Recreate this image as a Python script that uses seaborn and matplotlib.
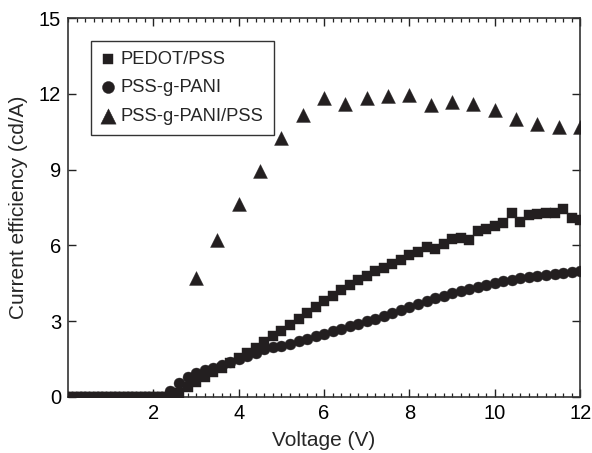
import numpy as np
import pandas as pd
import matplotlib
matplotlib.use("Agg")
import matplotlib.pyplot as plt
from matplotlib.ticker import MultipleLocator, FixedLocator
import seaborn as sns

# ---------------- data ----------------
zero_x = [0.0, 0.1, 0.2, 0.3, 0.4, 0.5, 0.6, 0.7, 0.8, 0.9, 1.0, 1.1, 1.2,
          1.3, 1.4, 1.5, 1.6, 1.7, 1.8, 1.9, 2.0, 2.1, 2.2, 2.3]

pedot_x = zero_x + [2.4, 2.5, 2.6, 2.8, 3.0, 3.2, 3.4, 3.6, 3.8, 4.0, 4.2, 4.4,
                    4.6, 4.8, 5.0, 5.2, 5.4, 5.6, 5.8, 6.0, 6.2, 6.4, 6.6, 6.8,
                    7.0, 7.2, 7.4, 7.6, 7.8, 8.0, 8.2, 8.4, 8.6, 8.8, 9.0, 9.2,
                    9.4, 9.6, 9.8, 10.0, 10.2, 10.4, 10.6, 10.8, 11.0, 11.2,
                    11.4, 11.6, 11.8, 12.0]
pedot_y = [0.0] * 24 + [0.0, 0.0, 0.15, 0.4, 0.6, 0.8, 1.0, 1.15, 1.35, 1.55,
                        1.75, 1.95, 2.18, 2.42, 2.62, 2.85, 3.1, 3.32, 3.55,
                        3.8, 4.0, 4.22, 4.43, 4.62, 4.8, 4.97, 5.12, 5.27,
                        5.42, 5.6, 5.75, 5.95, 5.85, 6.05, 6.25, 6.3, 6.22,
                        6.55, 6.65, 6.75, 6.9, 7.3, 6.92, 7.2, 7.25, 7.27,
                        7.28, 7.45, 7.1, 7.0]

pani_x = zero_x + [2.4, 2.6, 2.8, 3.0, 3.2, 3.4, 3.6, 3.8, 4.0, 4.2, 4.4, 4.6,
                   4.8, 5.0, 5.2, 5.4, 5.6, 5.8, 6.0, 6.2, 6.4, 6.6, 6.8, 7.0,
                   7.2, 7.4, 7.6, 7.8, 8.0, 8.2, 8.4, 8.6, 8.8, 9.0, 9.2, 9.4,
                   9.6, 9.8, 10.0, 10.2, 10.4, 10.6, 10.8, 11.0, 11.2, 11.4,
                   11.6, 11.8, 12.0]
pani_y = [0.0] * 24 + [0.25, 0.55, 0.8, 0.95, 1.05, 1.15, 1.27, 1.38, 1.5,
                       1.62, 1.72, 1.88, 1.96, 2.0, 2.1, 2.2, 2.3, 2.4, 2.5,
                       2.6, 2.7, 2.8, 2.9, 3.0, 3.1, 3.2, 3.32, 3.44, 3.55,
                       3.67, 3.8, 3.9, 4.0, 4.1, 4.18, 4.26, 4.34, 4.42, 4.5,
                       4.57, 4.63, 4.69, 4.75, 4.8, 4.84, 4.88, 4.92, 4.95,
                       4.97]

blend_x = [3.0, 3.5, 4.0, 4.5, 5.0, 5.5, 6.0, 6.5, 7.0, 7.5, 8.0, 8.5, 9.0,
           9.5, 10.0, 10.5, 11.0, 11.5, 12.0]
blend_y = [4.7, 6.2, 7.65, 8.93, 10.24, 11.15, 11.85, 11.6, 11.83, 11.9, 11.95,
           11.55, 11.67, 11.6, 11.35, 11.0, 10.8, 10.7, 10.67]

labels = ["PEDOT/PSS", "PSS-g-PANI", "PSS-g-PANI/PSS"]
x_ticks = [2, 4, 6, 8, 10, 12]
y_ticks = [0, 3, 6, 9, 12, 15]

# ---------------- style ----------------
sns.set_style("ticks")
plt.rcParams["font.family"] = ["Liberation Sans", "DejaVu Sans"]

ink = "#231f20"

fig = plt.figure(figsize=(5.92, 4.53), dpi=100)
ax = fig.add_axes([0.115, 0.124, 0.865, 0.836])

df_p = pd.DataFrame({"x": pedot_x, "y": pedot_y})
df_n = pd.DataFrame({"x": pani_x, "y": pani_y})
df_b = pd.DataFrame({"x": blend_x, "y": blend_y})

sns.scatterplot(data=df_p, x="x", y="y", marker="s", s=50, color=ink,
                edgecolor=ink, linewidth=0.3, label=labels[0], ax=ax, zorder=3)
sns.scatterplot(data=df_n, x="x", y="y", marker="o", s=62, color=ink,
                edgecolor=ink, linewidth=0.3, label=labels[1], ax=ax, zorder=3)
sns.scatterplot(data=df_b, x="x", y="y", marker="^", s=100, color=ink,
                edgecolor=ink, linewidth=0.3, label=labels[2], ax=ax, zorder=3)

ax.set_xlim(0, 12)
ax.set_ylim(0, 15)
ax.xaxis.set_major_locator(FixedLocator(x_ticks))
ax.xaxis.set_minor_locator(MultipleLocator(0.2))
ax.yaxis.set_major_locator(FixedLocator(y_ticks))

ax.tick_params(axis="both", which="both", direction="in", top=True,
               right=True, colors="#222222", labelcolor="black")
ax.tick_params(axis="both", which="major", length=5.5, width=1,
               labelsize=14.5, pad=5)
ax.tick_params(axis="x", which="minor", length=3, width=0.9)

for sp in ax.spines.values():
    sp.set_linewidth(1.2)
    sp.set_color("#333333")

ax.set_xlabel("Voltage (V)", fontsize=15, labelpad=6)
ax.set_ylabel("Current efficiency (cd/A)", fontsize=15, labelpad=8)

leg = ax.legend(loc="upper left", bbox_to_anchor=(0.044, 0.94),
                borderaxespad=0, frameon=True, fancybox=False,
                edgecolor="black", fontsize=13.2, handletextpad=0.35,
                labelspacing=0.62, borderpad=0.55, handlelength=0.75,
                markerscale=1.1)
leg.get_frame().set_linewidth(1.0)

fig.savefig("out.png", dpi=100)
